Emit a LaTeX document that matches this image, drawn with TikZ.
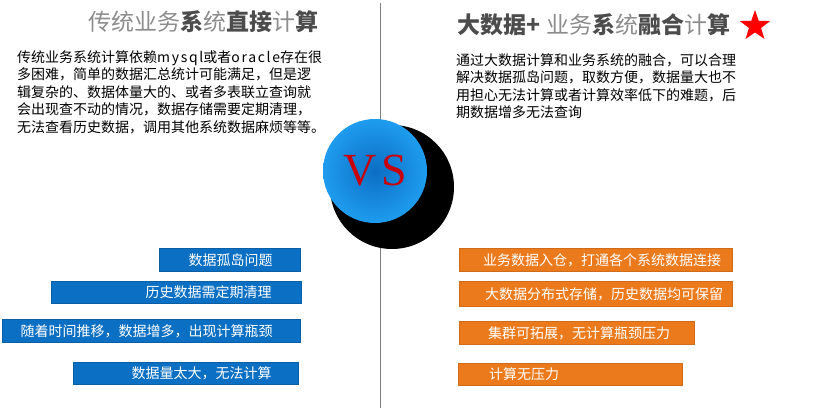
\documentclass[tikz,border=0pt]{standalone}
\usepackage{fontspec}
\setmainfont{Noto Sans CJK SC}
\newfontfamily\vsfont{Liberation Serif}
\usetikzlibrary{positioning,shapes.geometric}
\definecolor{cmpblue}{HTML}{0B6FC3}
\definecolor{cmporange}{HTML}{EB7A1C}
\definecolor{cmpball}{HTML}{0C6EC4}
\definecolor{cmpedge}{HTML}{1E9CEE}
\definecolor{cmpred}{HTML}{C8000A}

\begin{document}
\begin{tikzpicture}[x=1pt,y=-1pt,
  ttl/.style={font=\fontsize{23}{23}\selectfont,text=black!45,inner sep=0pt},
  para/.style={font=\fontsize{14}{17.5}\selectfont,align=left,anchor=north west,inner sep=0pt},
  bar/.style={anchor=north west,minimum height=23pt,inner sep=0pt,line width=0.8pt},
  bluebar/.style={bar,fill=cmpblue,draw=cmpblue!85!black},
  orangebar/.style={bar,fill=cmporange,draw=cmporange!88!black},
  bartext/.style={font=\fontsize{14}{14}\selectfont,text=white,inner sep=0pt}
]
\useasboundingbox (0,0) rectangle (830,411);
\newcommand\dk[1]{{\color{black!70}\bfseries #1}}
\newcommand\wide[1]{{\addfontfeature{LetterSpace=12}#1}}

% divider
\coordinate (top) at (380,3);
\coordinate (bot) at (380,408);
\draw[black!50,line width=1pt] (top) -- (bot);

% left side
\node[ttl] (oldtitle) at (203,22) {传统业务\dk{系}统\dk{直接}计\dk{算}};
\node[para] (oldtext) at (17,50) {传统业务系统计算依赖\wide{mysql}或者\wide{oracle}存在很\\多困难，简单的数据汇总统计可能满足，但是逻\\辑复杂的、数据体量大的、或者多表联立查询就\\会出现查不动的情况，数据存储需要定期清理，\\无法查看历史数据，调用其他系统数据麻烦等等。};

\node[bluebar,minimum width=141pt] (isle) at (159,248) {};
\node[bartext,left=28pt of isle.east] (islet) {数据孤岛问题};
\node[bluebar,minimum width=250pt,minimum height=22pt] (clean) at (51,281) {};
\node[bartext,left=30pt of clean.east] (cleant) {历史数据需定期清理};
\node[bluebar,minimum width=298pt] (neck) at (2,319) {};
\node[bartext,left=28pt of neck.east] (neckt) {随着时间推移，数据增多，出现计算瓶颈};
\node[bluebar,minimum width=225pt,minimum height=22pt] (big) at (73,362) {};
\node[bartext,left=27pt of big.east] (bigt) {数据量太大，无法计算};

% right side
\node[ttl] (newtitle) at (594,25) {\dk{大数据+} 业务\dk{系}统\dk{融合}计\dk{算}};
\node[star,star points=5,star point ratio=2.5,fill=red,inner sep=0pt,minimum size=32pt] (mark) at (755,26) {};
\node[para] (newtext) at (456,53) {通过大数据计算和业务系统的融合，可以合理\\解决数据孤岛问题，取数方便，数据量大也不\\用担心无法计算或者计算效率低下的难题，后\\期数据增多无法查询};

\node[orangebar,minimum width=273pt] (ware) at (459,248) {};
\node[bartext,right=24pt of ware.west] (waret) {业务数据入仓，打通各个系统数据连接};
\node[orangebar,minimum width=273pt,minimum height=25pt] (dist) at (459,281) {};
\node[bartext,right=26pt of dist.west] (distt) {大数据分布式存储，历史数据均可保留};
\node[orangebar,minimum width=235pt] (scale) at (459,321) {};
\node[bartext,right=29pt of scale.west] (scalet) {集群可拓展，无计算瓶颈压力};
\node[orangebar,minimum width=224pt,minimum height=22pt] (easy) at (458,363) {};
\node[bartext,right=31pt of easy.west] (easyt) {计算无压力};

% VS ball
\node[circle,fill=black,inner sep=0pt,minimum size=124pt] (shadow) at (392,187) {};
\node[circle,inner sep=0pt,minimum size=104pt,shading=radial,inner color=cmpball,outer color=cmpedge] (ball) at (375,171) {};
\node[font=\vsfont\fontsize{46}{46}\selectfont,text=cmpred] (vs) at (ball) {V\hspace{5pt}S};
\end{tikzpicture}
\end{document}
